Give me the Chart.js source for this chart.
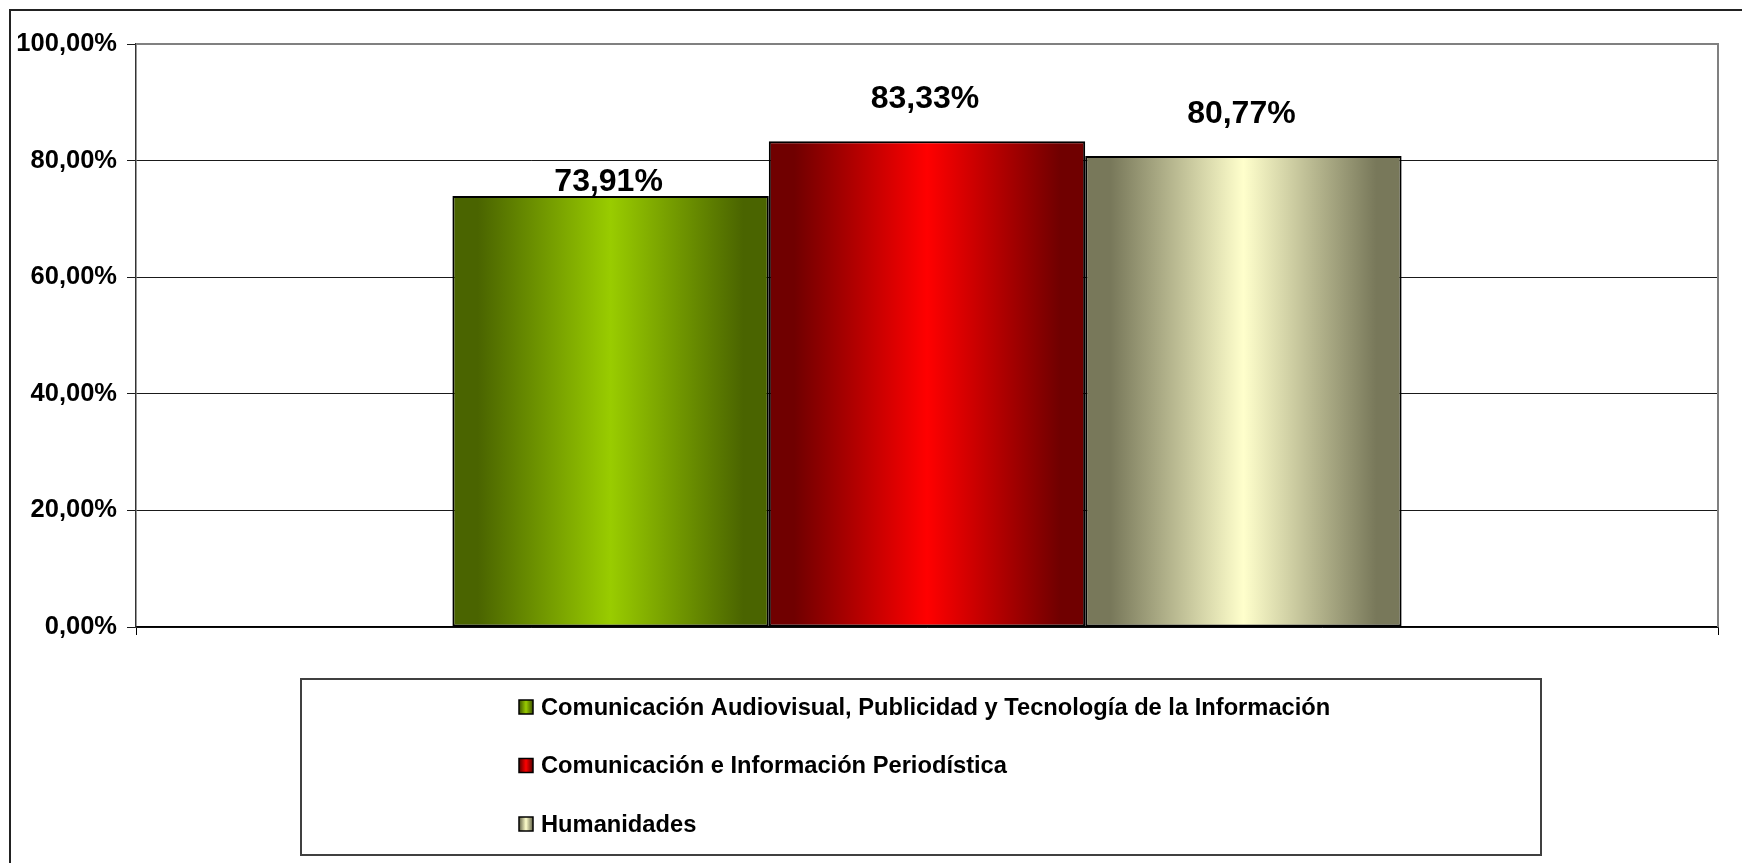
<!DOCTYPE html>
<html>
<head>
<meta charset="utf-8">
<script src="https://cdn.jsdelivr.net/npm/chart.js@4"></script>
<style>
  body { margin: 0; background: #fff; }
  canvas { display: block; }
</style>
</head>
<body>
<canvas id="myChart" width="1742" height="863"></canvas>
<script>
// data van de grafiek
const categories = [""];
const seriesNames = [
  "Comunicación Audiovisual, Publicidad y Tecnología de la Información",
  "Comunicación e Información Periodística",
  "Humanidades"
];
const seriesValues = [73.91, 83.33, 80.77];
const yTicks = [0, 20, 40, 60, 80, 100];

// stijl: [rand, midden] kleuren van de verloop
const barColors = [["#4a6400", "#99cc00"], ["#700000", "#ff0000"], ["#78785a", "#ffffcc"]];
const labelOffsets = [5, 33, 33];
const fontFamily = "'Liberation Sans', Arial, sans-serif";

function formatPct(v) {
  return v.toFixed(2).replace(".", ",") + "%";
}

function makeGradient(ctx, left, right, colors) {
  const g = ctx.createLinearGradient(left, 0, right, 0);
  g.addColorStop(0, colors[0]);
  g.addColorStop(0.08, colors[0]);
  g.addColorStop(0.5, colors[1]);
  g.addColorStop(0.92, colors[0]);
  g.addColorStop(1, colors[0]);
  return g;
}

// kader rond alles
const framePlugin = {
  id: "frame",
  beforeDraw(chart) {
    const ctx = chart.ctx;
    ctx.save();
    ctx.fillStyle = "#fff";
    ctx.fillRect(0, 0, chart.width, chart.height);
    ctx.strokeStyle = "#222";
    ctx.lineWidth = 2;
    ctx.beginPath();
    ctx.moveTo(10, chart.height);
    ctx.lineTo(10, 10);
    ctx.lineTo(chart.width, 10);
    ctx.stroke();
    ctx.restore();
  }
};

// verloop in de staven + grijze rand boven/rechts
const gradientPlugin = {
  id: "gradientBars",
  beforeDatasetsDraw(chart) {
    const ctx = chart.ctx;
    const a = chart.chartArea;
    ctx.save();
    ctx.strokeStyle = "#808080";
    ctx.lineWidth = 2;
    ctx.beginPath();
    ctx.moveTo(a.left, a.top);
    ctx.lineTo(a.right, a.top);
    ctx.lineTo(a.right, a.bottom);
    ctx.stroke();
    ctx.restore();
    chart.data.datasets.forEach((ds, i) => {
      chart.getDatasetMeta(i).data.forEach(bar => {
        const g = makeGradient(ctx, bar.x - bar.width / 2, bar.x + bar.width / 2, barColors[i]);
        bar.options = Object.assign({}, bar.options, { backgroundColor: g });
      });
    });
  }
};

// waarden boven de staven
const labelPlugin = {
  id: "valueLabels",
  afterDatasetsDraw(chart) {
    const ctx = chart.ctx;
    ctx.save();
    ctx.font = "bold 32px " + fontFamily;
    ctx.fillStyle = "#000";
    ctx.textAlign = "center";
    ctx.textBaseline = "alphabetic";
    chart.data.datasets.forEach((ds, i) => {
      chart.getDatasetMeta(i).data.forEach((bar, j) => {
        ctx.fillText(formatPct(ds.data[j]), bar.x - 2, bar.y - labelOffsets[i]);
      });
    });
    ctx.restore();
  }
};

// legenda in een kader onder de grafiek
const legendPlugin = {
  id: "boxLegend",
  afterDraw(chart) {
    const ctx = chart.ctx;
    const box = { left: 301, top: 679, right: 1541, bottom: 855 };
    ctx.save();
    ctx.strokeStyle = "#404040";
    ctx.lineWidth = 2;
    ctx.strokeRect(box.left, box.top, box.right - box.left, box.bottom - box.top);
    ctx.font = "bold 23.7px " + fontFamily;
    ctx.textBaseline = "middle";
    ctx.fillStyle = "#000";
    chart.data.datasets.forEach((ds, i) => {
      const cy = 707 + i * 58.5;
      const sx = 519, size = 14;
      ctx.fillStyle = makeGradient(ctx, sx, sx + size, barColors[i]);
      ctx.fillRect(sx, cy - size / 2, size, size);
      ctx.strokeStyle = "#000";
      ctx.lineWidth = 1.5;
      ctx.strokeRect(sx, cy - size / 2, size, size);
      ctx.fillStyle = "#000";
      ctx.fillText(ds.label, 541, cy + 1);
    });
    ctx.restore();
  }
};

const datasets = seriesNames.map((name, i) => ({
  label: name,
  data: [seriesValues[i]],
  backgroundColor: barColors[i][1],
  borderColor: "#000",
  borderWidth: 2,
  borderSkipped: false,
  categoryPercentage: 0.6,
  barPercentage: 1
}));

new Chart(document.getElementById("myChart"), {
  type: "bar",
  data: { labels: categories, datasets: datasets },
  options: {
    responsive: false,
    animation: false,
    layout: { padding: { top: 44, right: 24, left: 0, bottom: 0 } },
    plugins: {
      legend: { display: false },
      tooltip: { enabled: false }
    },
    scales: {
      x: {
        grid: { display: true, drawOnChartArea: false, drawTicks: true, tickLength: 8, color: "#000", offset: true },
        border: { color: "#000", width: 1.5 },
        ticks: { display: false },
        afterFit: s => { s.height = 236; }
      },
      y: {
        min: 0,
        max: 100,
        afterBuildTicks: s => { s.ticks = yTicks.map(v => ({ value: v })); },
        ticks: {
          callback: v => formatPct(v),
          color: "#000",
          padding: 10,
          font: { family: fontFamily, size: 25.5, weight: "bold" }
        },
        grid: { color: "#1a1a1a", lineWidth: 1, tickLength: 9 },
        border: { color: "#333", width: 1.5 },
        afterFit: s => { s.width = 136; }
      }
    }
  },
  plugins: [framePlugin, gradientPlugin, labelPlugin, legendPlugin]
});
</script>
</body>
</html>
